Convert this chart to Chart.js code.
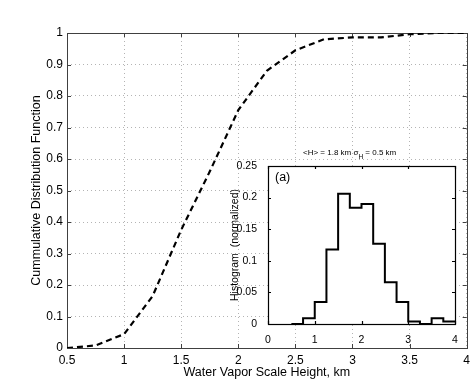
<!DOCTYPE html>
<html>
<head>
<meta charset="utf-8">
<script src="https://cdn.jsdelivr.net/npm/chart.js@4"></script>
<style>
  body { margin: 0; background: #fff; }
  #wrap { position: relative; width: 475px; height: 382px; }
  #main { position: absolute; left: 0; top: 0; }
  #inset { position: absolute; left: 224px; top: 140px; }
</style>
</head>
<body>
<div id="wrap">
  <canvas id="main" width="475" height="382"></canvas>
  <canvas id="inset" width="244" height="205"></canvas>
</div>
<script>
// bin edges (km), shared by the CDF curve and the inset histogram
const heightKm = [0.5, 0.75, 1, 1.25, 1.5, 1.75, 2, 2.25, 2.5, 2.75, 3, 3.25, 3.5, 3.75, 4];
const cdfValues = [0, 0.008, 0.044, 0.165, 0.375, 0.56, 0.755, 0.88, 0.945, 0.98, 0.986, 0.986, 0.996, 1, 1];
const histValues = [0, 0.009, 0.035, 0.118, 0.206, 0.184, 0.19, 0.127, 0.066, 0.035, 0.004, 0, 0.009, 0.004];

const mainXTicks = [0.5, 1, 1.5, 2, 2.5, 3, 3.5, 4];
const mainYTicks = [0, 0.1, 0.2, 0.3, 0.4, 0.5, 0.6, 0.7, 0.8, 0.9, 1];
const insetXTicks = [0, 1, 2, 3, 4];
const insetYTicks = [0, 0.05, 0.1, 0.15, 0.2, 0.25];

Chart.defaults.font.family = "'Liberation Sans', Arial, Helvetica, sans-serif";
Chart.defaults.color = '#000';

const fmt = v => String(+v.toFixed(2));
const setTicks = list => s => { s.ticks = list.map(v => ({ value: v })); };

// matlab style box with inward tick marks on all four sides
const frame = {
  id: 'frame',
  beforeDraw(chart, args, opts) {
    if (!opts.fill) return;
    const a = chart.chartArea;
    chart.ctx.save();
    chart.ctx.fillStyle = opts.fill;
    chart.ctx.fillRect(a.left, a.top, a.width, a.height);
    chart.ctx.restore();
  },
  beforeDatasetsDraw(chart, args, opts) {
    const { ctx, chartArea: a, scales: { x, y } } = chart;
    const L = opts.len;
    ctx.save();
    ctx.strokeStyle = opts.color;
    ctx.lineWidth = opts.width;
    ctx.beginPath();
    x.ticks.forEach(t => {
      const px = Math.round(x.getPixelForValue(t.value)) + 0.5;
      ctx.moveTo(px, a.bottom); ctx.lineTo(px, a.bottom - L);
      ctx.moveTo(px, a.top); ctx.lineTo(px, a.top + L);
    });
    y.ticks.forEach(t => {
      const py = Math.round(y.getPixelForValue(t.value)) + 0.5;
      ctx.moveTo(a.left, py); ctx.lineTo(a.left + L, py);
      ctx.moveTo(a.right, py); ctx.lineTo(a.right - L, py);
    });
    ctx.stroke();
    ctx.strokeRect(Math.round(a.left) + 0.5, Math.round(a.top) + 0.5,
      Math.round(a.width), Math.round(a.height));
    ctx.restore();
  }
};

new Chart(document.getElementById('main'), {
  type: 'line',
  data: {
    datasets: [{
      data: heightKm.map((h, i) => ({ x: h, y: cdfValues[i] })),
      borderColor: '#000',
      borderWidth: 2.2,
      borderDash: [6, 4],
      pointRadius: 0,
      tension: 0,
      fill: false
    }]
  },
  options: {
    responsive: false,
    animation: false,
    devicePixelRatio: 1,
    layout: { padding: { top: 33, right: 8, left: 0, bottom: 0 } },
    plugins: {
      legend: { display: false },
      tooltip: { enabled: false },
      frame: { color: '#404040', width: 1, len: 4 }
    },
    scales: {
      x: {
        type: 'linear', min: 0.5, max: 4,
        afterBuildTicks: setTicks(mainXTicks),
        afterFit: s => { s.height = 34; },
        grid: { color: '#b4b4b4', drawTicks: false },
        border: { display: false, dash: [1, 3] },
        ticks: { padding: 5, font: { size: 12 }, callback: fmt, maxRotation: 0, autoSkip: false },
        title: { display: true, text: 'Water Vapor Scale Height, km', font: { size: 12.5 }, padding: { top: 0, bottom: 2 } }
      },
      y: {
        type: 'linear', min: 0, max: 1,
        afterBuildTicks: setTicks(mainYTicks),
        afterFit: s => { s.width = 67; },
        grid: { color: '#b4b4b4', drawTicks: false },
        border: { display: false, dash: [1, 3] },
        ticks: { padding: 4, font: { size: 12 }, callback: fmt, autoSkip: false },
        title: { display: true, text: 'Cummulative Distribution Function', font: { size: 12.5 }, padding: { top: 29, bottom: 0 } }
      }
    }
  },
  plugins: [frame]
});

// inset annotations: the mean / spread line and the panel letter
const insetText = {
  id: 'insetText',
  afterDraw(chart) {
    const ctx = chart.ctx;
    const fam = Chart.defaults.font.family;
    ctx.save();
    ctx.fillStyle = '#000';
    ctx.textBaseline = 'alphabetic';
    let x = 79;
    const base = 15;
    ctx.font = '8px ' + fam;
    const a = '<H> = 1.8 km \u03C3';
    ctx.fillText(a, x, base);
    x += ctx.measureText(a).width;
    ctx.font = '6.5px ' + fam;
    ctx.fillText('H', x, base + 3.5);
    x += ctx.measureText('H').width;
    ctx.font = '8px ' + fam;
    ctx.fillText(' = 0.5 km', x, base);
    ctx.font = '12.5px ' + fam;
    ctx.textBaseline = 'middle';
    ctx.fillText('(a)', chart.chartArea.left + 7, chart.chartArea.top + 12);
    ctx.restore();
  }
};

new Chart(document.getElementById('inset'), {
  type: 'line',
  data: {
    datasets: [{
      data: heightKm.map((h, i) => ({ x: h, y: histValues[Math.min(i, histValues.length - 1)] })),
      borderColor: '#000',
      borderWidth: 2,
      stepped: true,
      pointRadius: 0,
      fill: false
    }]
  },
  options: {
    responsive: false,
    animation: false,
    devicePixelRatio: 1,
    layout: { padding: { top: 26, right: 13, left: 0, bottom: 0 } },
    plugins: {
      legend: { display: false },
      tooltip: { enabled: false },
      frame: { color: '#000', width: 1.2, len: 3, fill: '#fff' }
    },
    scales: {
      x: {
        type: 'linear', min: 0, max: 4,
        afterBuildTicks: setTicks(insetXTicks),
        afterFit: s => { s.height = 21; },
        grid: { display: false },
        border: { display: false },
        ticks: { padding: 2, font: { size: 10.5 }, callback: fmt, maxRotation: 0, autoSkip: false }
      },
      y: {
        type: 'linear', min: 0, max: 0.25,
        afterBuildTicks: setTicks(insetYTicks),
        afterFit: s => { s.width = 44; },
        grid: { display: false },
        border: { display: false },
        ticks: { padding: 3, font: { size: 10.5 }, callback: fmt, autoSkip: false },
        title: { display: true, text: 'Histogram  (normalized)', font: { size: 10.5 }, padding: { top: 4.7, bottom: 0 } }
      }
    }
  },
  plugins: [frame, insetText]
});
</script>
</body>
</html>
